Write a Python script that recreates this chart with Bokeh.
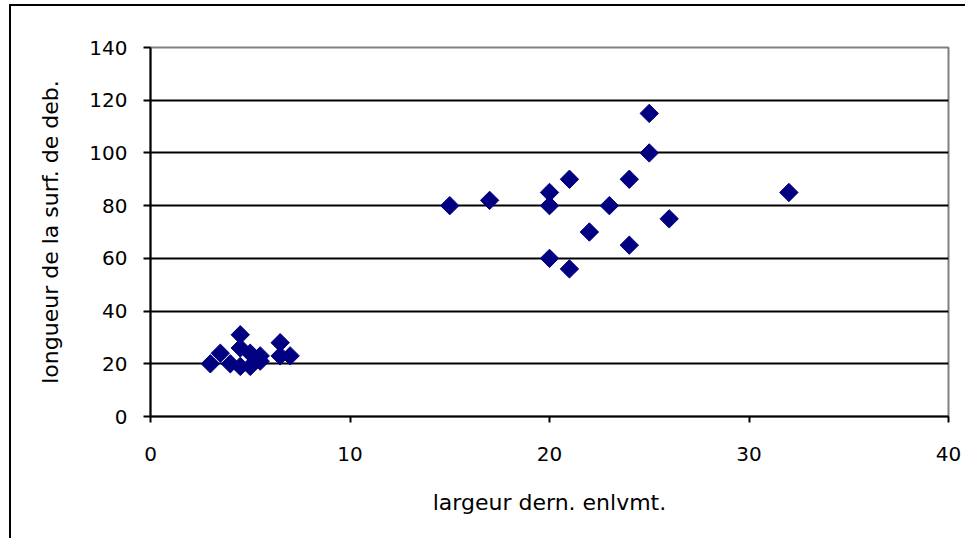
import numpy as np
from bokeh.plotting import figure
from bokeh.models import Range1d, FixedTicker
from bokeh.embed import file_html
from bokeh.resources import INLINE

# data
largeur = [3, 3.5, 4, 4.5, 4.5, 4.5, 5, 5, 5.5, 5.5, 6.5, 6.5, 7,
           15, 17, 20, 20, 20, 21, 21, 22, 23, 24, 24, 25, 25, 26, 32]
longueur = [20, 24, 20, 31, 26, 19, 24, 19, 21, 23, 28, 23, 23,
            80, 82, 85, 80, 60, 90, 56, 70, 80, 90, 65, 115, 100, 75, 85]
x_ticks = [0, 10, 20, 30, 40]
y_ticks = [0, 20, 40, 60, 80, 100, 120, 140]
x_label = "largeur dern. enlvmt."
y_label = "longueur de la surf. de deb."

FONT = "DejaVu Sans"

p = figure(width=956, height=534, output_backend="svg", toolbar_location=None,
           x_range=Range1d(0, 40), y_range=Range1d(0, 140),
           min_border_left=139, min_border_right=19, min_border_top=41,
           min_border_bottom=124,
           styles={"border-left": "2px solid black", "border-top": "2px solid black",
                   "margin-left": "9px", "margin-top": "4px"})

p.outline_line_color = "#808080"
p.outline_line_width = 2

p.xgrid.visible = False
p.ygrid.ticker = FixedTicker(ticks=y_ticks)
p.ygrid.grid_line_color = "black"
p.ygrid.grid_line_width = 2

p.xaxis.ticker = FixedTicker(ticks=x_ticks)
p.yaxis.ticker = FixedTicker(ticks=y_ticks)
for ax in (p.xaxis[0], p.yaxis[0]):
    ax.axis_line_color = "black"
    ax.axis_line_width = 2
    ax.major_tick_line_color = "black"
    ax.major_tick_line_width = 2
    ax.major_tick_in = 0
    ax.minor_tick_line_color = None
    ax.major_label_text_font = FONT
    ax.major_label_text_font_size = "20px"
    ax.major_label_text_color = "black"
    ax.axis_label_text_font = FONT
    ax.axis_label_text_font_size = "22px"
    ax.axis_label_text_font_style = "normal"
    ax.axis_label_text_color = "black"

p.xaxis.major_tick_out = 6
p.yaxis.major_tick_out = 7
p.xaxis.major_label_standoff = 24
p.yaxis.major_label_standoff = 16
p.xaxis.axis_label = x_label
p.yaxis.axis_label = y_label
p.xaxis.axis_label_standoff = 26
p.yaxis.axis_label_standoff = 23

p.scatter(largeur, longueur, marker="square", angle=np.pi / 4, size=13,
          fill_color="#000080", line_color="#000080", line_width=1)

open("out.html", "w").write(file_html(p, INLINE))
